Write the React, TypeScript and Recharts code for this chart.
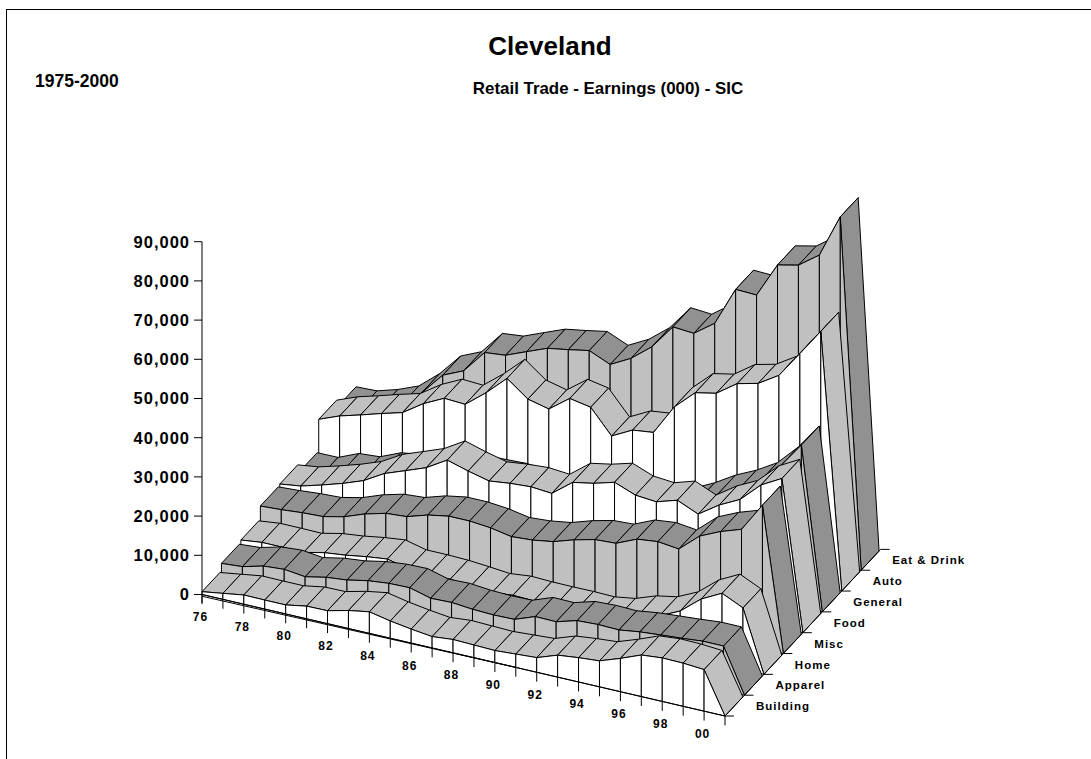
import { ScatterChart, Scatter, XAxis, YAxis } from "recharts";

const FONT = "'Liberation Sans', Arial, sans-serif";

const years = ["76", "78", "80", "82", "84", "86", "88", "90", "92", "94", "96", "98", "00"];
const yTicks = [0, 10000, 20000, 30000, 40000, 50000, 60000, 70000, 80000, 90000];

// front to back
const ribbons = ["Building", "Apparel", "Home", "Misc", "Food", "General", "Auto", "Eat & Drink"];

const building = [720, 1530, 2350, 2300, 2300, 3230, 3300, 4600, 5500, 4400, 3570, 2900, 3400, 3230, 3060, 3400, 3740, 5600, 6200, 6630, 8500, 10600, 11100, 11000, 10600];
const apparel = [2630, 3030, 4420, 4820, 4170, 5270, 5820, 6890, 7450, 7570, 6120, 6300, 5800, 5600, 5700, 7650, 7570, 9100, 9350, 9200, 9950, 10400, 10800, 11300, 11300];
const home = [3270, 3900, 3900, 3830, 5000, 5600, 6460, 7100, 5800, 5800, 5650, 5230, 4720, 5300, 5100, 5060, 5100, 4970, 5800, 7700, 8700, 11200, 15500, 18200, 15700];
const misc = [6630, 6940, 7400, 7650, 8840, 10800, 12200, 12600, 14250, 15200, 15200, 14700, 13700, 14070, 14900, 16600, 17900, 18200, 20500, 21100, 20450, 25000, 27400, 29200, 36600];
const food = [6930, 7650, 9150, 10800, 12750, 15800, 17770, 19770, 22950, 21400, 20100, 20740, 21100, 20650, 24700, 25700, 27200, 25160, 24700, 26350, 24050, 27600, 30260, 35200, 38100];
const general = [4720, 4760, 7000, 7400, 9650, 10500, 12000, 13000, 14000, 14170, 14400, 13800, 13600, 15000, 16000, 17500, 17000, 17500, 18000, 20600, 23800, 26300, 29450, 34700, 41300];
const auto = [12800, 14900, 16400, 18000, 19470, 23000, 25600, 25300, 29500, 34400, 30350, 29070, 33000, 32000, 25900, 28650, 29300, 37060, 41900, 43000, 46700, 48000, 51300, 58100, 65000];
const eatDrink = [10900, 11100, 12700, 14830, 19250, 24950, 27300, 33200, 33750, 35900, 38000, 38900, 39900, 37600, 40400, 44600, 50900, 50500, 54300, 64200, 64000, 72900, 74100, 77900, 88900];

const seriesValues = [building, apparel, home, misc, food, general, auto, eatDrink];

const LIGHT = "#c0c0c0";
const DARK = "#919191";
const RIBBON_WIDTH = 0.92;

// oblique projection into the chart's own x / value space
const project = (i: number, s: number, v: number) => ({
  x: i + s * 0.93,
  y: v - 1240 * i + 5314 * s,
});

type Poly = { pts: { x: number; y: number }[]; fill: string };
const polys: Poly[] = [];
const lines: { x: number; y: number }[][] = [];

for (let s = ribbons.length - 1; s >= 0; s--) {
  const vals = [...seriesValues[s], 0]; // every ribbon drops back to the floor
  const odd = s % 2 === 1;
  for (let i = 0; i < vals.length - 1; i++) {
    const a = vals[i];
    const b = vals[i + 1];
    const top = [project(i, s, a), project(i + 1, s, b), project(i + 1, s + RIBBON_WIDTH, b), project(i, s + RIBBON_WIDTH, a)];
    polys.push({ pts: [...top, top[0]], fill: odd ? DARK : LIGHT });
    const wall = [project(i, s, a), project(i + 1, s, b), project(i + 1, s, 0), project(i, s, 0)];
    polys.push({ pts: [...wall, wall[0]], fill: odd ? LIGHT : "#ffffff" });
  }
}

// floor edges and ticks
lines.push([project(0, 0, 0), project(25, 0, 0)]);
lines.push([project(0, 0, -450), project(15, 0, 0)]);
lines.push([project(25, 0, 0), project(25, 8, 0)]);
for (let i = 0; i <= 25; i++) lines.push([project(i, 0, 0), project(i, 0, -2400)]);
for (let s = 0; s <= 8; s++) {
  const p = project(25, s, 0);
  lines.push([p, { x: p.x + 0.43, y: p.y }]);
}
lines.push([{ x: 0, y: 90000 }, { x: 0, y: -2200 }]);

const yearPoints = years.map((label, k) => ({ ...project(k * 2, 0, -5740), label }));
const ribbonPoints = ribbons.map((label, s) => ({ ...project(25, s + 1, 0), label }));

const NoDot = () => <g />;

const YearLabel = (p: any) => (
  <text x={p.cx - 1.5} y={p.cy + 4} textAnchor="middle" fontFamily={FONT} fontWeight="bold" fontSize={12} letterSpacing={1} fill="#000">
    {p.payload.label}
  </text>
);

const RibbonLabel = (p: any) => (
  <text x={p.cx + 11.5} y={p.cy + 15} fontFamily={FONT} fontWeight="bold" fontSize={11.5} letterSpacing={1} fill="#000">
    {p.payload.label}
  </text>
);

const PX_PER_UNIT = 0.00392;

export default function App() {
  return (
    <div style={{ position: "absolute", left: 0, top: 0, width: 1091, height: 759, background: "#fff", overflow: "hidden" }}>
      <div style={{ position: "absolute", left: 6, top: 9, right: -4, bottom: -4, borderLeft: "1.5px solid #000", borderTop: "1.5px solid #000" }} />
      <ScatterChart width={1091} height={759} margin={{ top: 0, right: 177.72, bottom: 0, left: 0 }}>
        <XAxis type="number" dataKey="x" domain={[0, 34]} hide />
        <YAxis
          type="number"
          dataKey="y"
          width={202}
          domain={[-(759 - 594.5) / PX_PER_UNIT, 594.5 / PX_PER_UNIT]}
          ticks={yTicks}
          interval={0}
          axisLine={false}
          tickSize={8}
          tickMargin={4}
          tickLine={{ stroke: "#000" }}
          tick={{ fontFamily: FONT, fontSize: 16.5, fontWeight: "bold", fill: "#000", letterSpacing: 1 }}
          tickFormatter={(v: number) => v.toLocaleString("en-US")}
        />
        {polys.map((p, k) => (
          <Scatter
            key={k}
            data={p.pts}
            shape={NoDot}
            line={{ fill: p.fill, stroke: "#000", strokeWidth: 1 }}
            isAnimationActive={false}
          />
        ))}
        {lines.map((l, k) => (
          <Scatter
            key={"l" + k}
            data={l}
            shape={NoDot}
            line={{ fill: "none", stroke: "#000", strokeWidth: 1 }}
            isAnimationActive={false}
          />
        ))}
        <Scatter data={yearPoints} shape={YearLabel} isAnimationActive={false} />
        <Scatter data={ribbonPoints} shape={RibbonLabel} isAnimationActive={false} />
        <text x={550} y={55} textAnchor="middle" fontFamily={FONT} fontWeight="bold" fontSize={26} letterSpacing={0.1} fill="#000">
          Cleveland
        </text>
        <text x={608} y={94} textAnchor="middle" fontFamily={FONT} fontWeight="bold" fontSize={16.9} fill="#000">
          Retail Trade - Earnings (000) - SIC
        </text>
        <text x={35} y={87} fontFamily={FONT} fontWeight="bold" fontSize={17.5} fill="#000">
          1975-2000
        </text>
      </ScatterChart>
    </div>
  );
}
